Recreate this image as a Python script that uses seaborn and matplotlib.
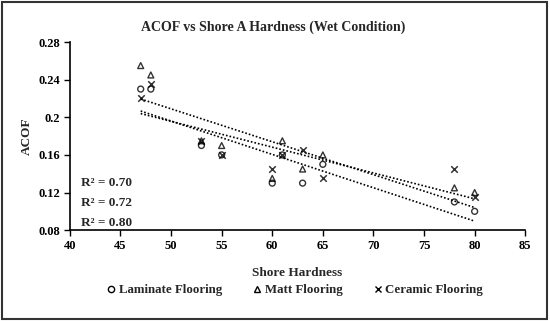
import numpy as np
import pandas as pd
import seaborn as sns
import matplotlib.pyplot as plt
from matplotlib.lines import Line2D
from matplotlib.patches import Rectangle

hardness = [47, 48, 53, 55, 60, 61, 63, 65, 78, 80]
laminate = [0.23, 0.23, 0.17, 0.16, 0.13, 0.16, 0.13, 0.15, 0.11, 0.10]
matt = [0.255, 0.245, 0.175, 0.17, 0.135, 0.175, 0.145, 0.16, 0.125, 0.12]
ceramic = [0.22, 0.235, 0.175, 0.16, 0.145, 0.16, 0.165, 0.135, 0.145, 0.115]
series_names = ['Laminate Flooring', 'Matt Flooring', 'Ceramic Flooring']
r2_labels = ['R² = 0.70', 'R² = 0.72', 'R² = 0.80']
x_ticks = [40, 45, 50, 55, 60, 65, 70, 75, 80, 85]
y_ticks = [0.08, 0.12, 0.16, 0.2, 0.24, 0.28]

sns.set_style('white')
plt.rcParams['font.family'] = ['Liberation Serif', 'DejaVu Serif']
plt.rcParams['font.weight'] = 'bold'

fig = plt.figure(figsize=(5.5, 3.21), dpi=100)
ax = fig.add_axes([0.127, 0.283, 0.828, 0.586])

markers = ['o', '^', 'x']
for name, vals, m in zip(series_names, [laminate, matt, ceramic], markers):
    df = pd.DataFrame({'x': hardness, 'y': vals})
    if m == 'x':
        kws = dict(color='black', s=22, linewidths=1.1)
    else:
        kws = dict(facecolors='none', edgecolors='black', s=18, linewidths=1.0)
    sns.regplot(data=df, x='x', y='y', ax=ax, ci=None, marker=m,
                scatter_kws=kws,
                line_kws=dict(color='black', linestyle=(0, (1, 1.2)), linewidth=1.2))

ax.set_xlim(40, 85)
ax.set_ylim(0.08, 0.28)
ax.set_xticks(x_ticks)
ax.set_yticks(y_ticks)
ax.set_yticklabels([f'{v:g}' for v in y_ticks])
ax.tick_params(direction='out', length=4, width=1, labelsize=9, colors='black',
               left=True, bottom=True, pad=3)
for lab in ax.get_xticklabels() + ax.get_yticklabels():
    lab.set_fontweight('bold')
sns.despine(ax=ax)
for s in ['left', 'bottom']:
    ax.spines[s].set_color('black')
    ax.spines[s].set_linewidth(1.2)

ax.set_xlabel('Shore Hardness', fontsize=9.5, fontweight='bold', labelpad=11)
ax.set_ylabel('ACOF', fontsize=9.5, fontweight='bold', labelpad=4)
fig.suptitle('ACOF vs Shore A Hardness (Wet Condition)', x=0.497, y=0.935,
             fontsize=10, fontweight='bold')

for i, t in enumerate(r2_labels):
    ax.text(0.025, 0.25 - i * 0.105, t, transform=ax.transAxes, fontsize=9.5,
            fontweight='bold', va='center')

handles = [
    Line2D([], [], marker='o', linestyle='none', markerfacecolor='none',
           markeredgecolor='black', markersize=4.5),
    Line2D([], [], marker='^', linestyle='none', markerfacecolor='none',
           markeredgecolor='black', markersize=4.5),
    Line2D([], [], marker='x', linestyle='none', color='black', markersize=4.5),
]
fig.legend(handles, series_names, loc='center', bbox_to_anchor=(0.537, 0.096),
           ncol=3, frameon=False, handlelength=0.6,
           handletextpad=0.3, columnspacing=2.4, prop={'weight': 'bold', 'size': 9.3})

fig.patches.append(Rectangle((0.004, 0.006), 0.99, 0.988, transform=fig.transFigure,
                             fill=False, edgecolor='#333333', linewidth=1.5))

fig.savefig('out.png', dpi=100)
